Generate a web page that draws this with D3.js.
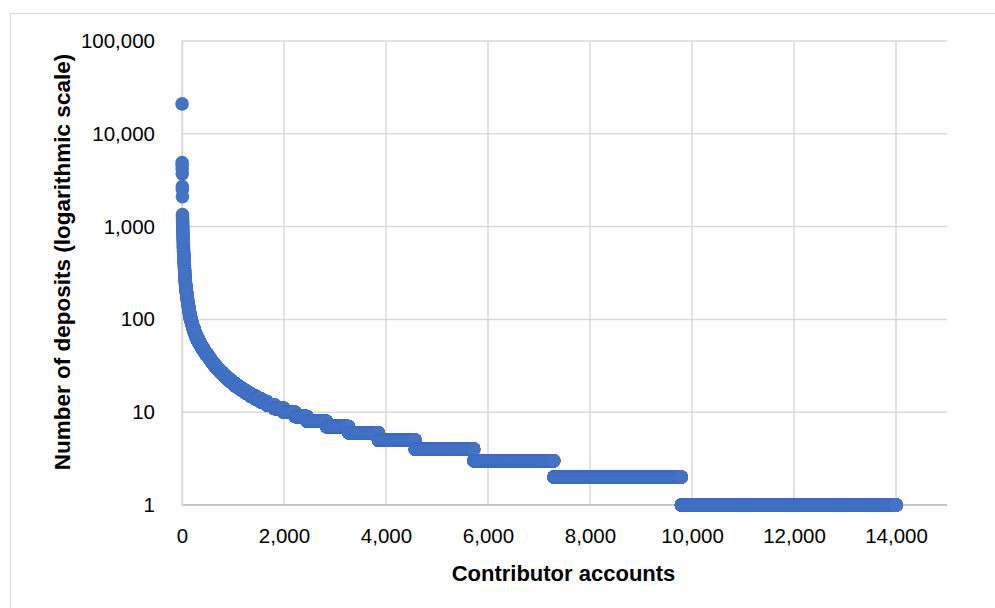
<!DOCTYPE html>
<html>
<head>
<meta charset="utf-8">
<script src="https://cdn.jsdelivr.net/npm/d3@7"></script>
<style>
  html, body { margin: 0; padding: 0; background: #ffffff; }
  svg { display: block; }
  text { font-family: "Liberation Sans", Arial, sans-serif; fill: #000; }
</style>
</head>
<body>
<svg id="chart" width="995" height="608"></svg>
<script>
// ---- Data ----
// Distinct "number of deposits" values, descending, and how many accounts have each value
const depositLevels = [
  21000, 4900, 4600, 4200, 3700, 2700, 2500, 2100,
  1350, 1280, 1200, 1150, 1100, 1050, 1000, 960, 920, 880, 850, 820, 790, 760, 730, 700, 680, 650, 620, 600,
  580, 560, 540, 520, 500, 480, 460, 440, 420, 400,
  380, 360, 340, 320, 300, 285, 270, 255, 240, 230,
  220, 210, 200, 190, 180, 170, 160, 150, 140, 130,
  120, 110, 100, 95, 90, 85, 80, 75, 70, 65,
  60, 56, 53, 50, 48, 46, 44, 42, 41,
  40, 39, 38, 37, 36, 35, 34, 33, 32, 31,
  30, 29, 28, 27, 26, 25, 24, 23, 22, 21,
  20, 19, 18, 17, 16, 15, 14, 13, 12, 11,
  10, 9, 8, 7, 6, 5, 4, 3, 2, 1
];
const accountCounts = [
  1, 1, 1, 1, 1, 1, 1, 1,
  1, 1, 1, 1, 1, 1, 1, 1, 1, 1, 1, 1, 1, 1, 1, 1, 1, 1, 1, 1,
  1, 1, 2, 1, 2, 2, 2, 2, 2, 2,
  2, 2, 3, 3, 3, 3, 3, 3, 4, 4,
  4, 4, 5, 5, 6, 6, 7, 8, 9, 10,
  11, 14, 16, 10, 12, 14, 16, 18, 22, 26,
  30, 28, 24, 26, 19, 21, 23, 25, 13,
  13, 14, 14, 15, 16, 17, 18, 19, 20, 22,
  23, 25, 27, 29, 31, 33, 36, 40, 43, 47,
  52, 58, 65, 72, 82, 93, 107, 124, 145, 188,
  222, 234, 380, 435, 585, 720, 1150, 1570, 2500, 4216
];
const xTickValues = [0, 2000, 4000, 6000, 8000, 10000, 12000, 14000];
const yTickValues = [1, 10, 100, 1000, 10000, 100000];
const xTitle = "Contributor accounts";
const yTitle = "Number of deposits (logarithmic scale)";

// Expand the frequency table into one point per contributor account (rank order)
const points = [];
let rankCounter = 0;
depositLevels.forEach((v, i) => {
  for (let k = 0; k < accountCounts[i]; k++) {
    rankCounter += 1;
    points.push({ rank: rankCounter, value: v });
  }
});

// ---- Layout ----
const svg = d3.select("#chart");
const plotLeft = 182, plotRight = 947, plotTop = 41, plotBottom = 505;

const x = d3.scaleLinear().domain([0, 15000]).range([plotLeft, plotRight]);
const y = d3.scaleLog().domain([1, 100000]).range([plotBottom, plotTop]);

const fmt = d3.format(",");
const gridColor = "#d9d9d9";

// chart frame
svg.append("rect")
  .attr("x", 10.5).attr("y", 13.5)
  .attr("width", 1000).attr("height", 700)
  .attr("fill", "#fff").attr("stroke", gridColor).attr("stroke-width", 1);

// gridlines
svg.append("g")
  .selectAll("line")
  .data(yTickValues)
  .join("line")
  .attr("x1", plotLeft).attr("x2", plotRight)
  .attr("y1", d => y(d)).attr("y2", d => y(d))
  .attr("stroke", gridColor).attr("stroke-width", 1.5);

svg.append("g")
  .selectAll("line")
  .data(xTickValues)
  .join("line")
  .attr("x1", d => x(d)).attr("x2", d => x(d))
  .attr("y1", plotTop).attr("y2", plotBottom)
  .attr("stroke", gridColor).attr("stroke-width", 1.5);

// axes (labels via d3 axes)
const xAxis = d3.axisBottom(x).tickValues(xTickValues).tickFormat(fmt).tickSize(0).tickPadding(23);
const gx = svg.append("g").attr("transform", `translate(0,${plotBottom})`).call(xAxis);
gx.select(".domain").attr("stroke", "#bfbfbf").attr("stroke-width", 1.5).attr("d", `M${plotLeft},0H${plotRight}`);
gx.selectAll("text").attr("font-size", 20.5).attr("font-family", "Liberation Sans, Arial, sans-serif").attr("fill", "#000");

const yAxis = d3.axisLeft(y).tickValues(yTickValues).tickFormat(fmt).tickSize(0).tickPadding(27);
const gy = svg.append("g").attr("transform", `translate(${plotLeft},0)`).call(yAxis);
gy.select(".domain").attr("stroke", gridColor).attr("stroke-width", 1.5);
gy.selectAll("text").attr("font-size", 20.5).attr("font-family", "Liberation Sans, Arial, sans-serif").attr("fill", "#000");

// points
svg.append("g")
  .selectAll("circle")
  .data(points)
  .join("circle")
  .attr("cx", d => x(d.rank))
  .attr("cy", d => y(d.value))
  .attr("r", 6.8)
  .attr("fill", "#4472C4");

// axis titles
svg.append("text")
  .attr("x", (plotLeft + plotRight) / 2 - 1).attr("y", 581)
  .attr("text-anchor", "middle")
  .attr("font-size", 22).attr("font-weight", "bold")
  .text(xTitle);

svg.append("text")
  .attr("transform", `translate(70,${(plotTop + plotBottom) / 2 - 11}) rotate(-90)`)
  .attr("text-anchor", "middle")
  .attr("font-size", 22.5).attr("font-weight", "bold")
  .text(yTitle);
</script>
</body>
</html>
